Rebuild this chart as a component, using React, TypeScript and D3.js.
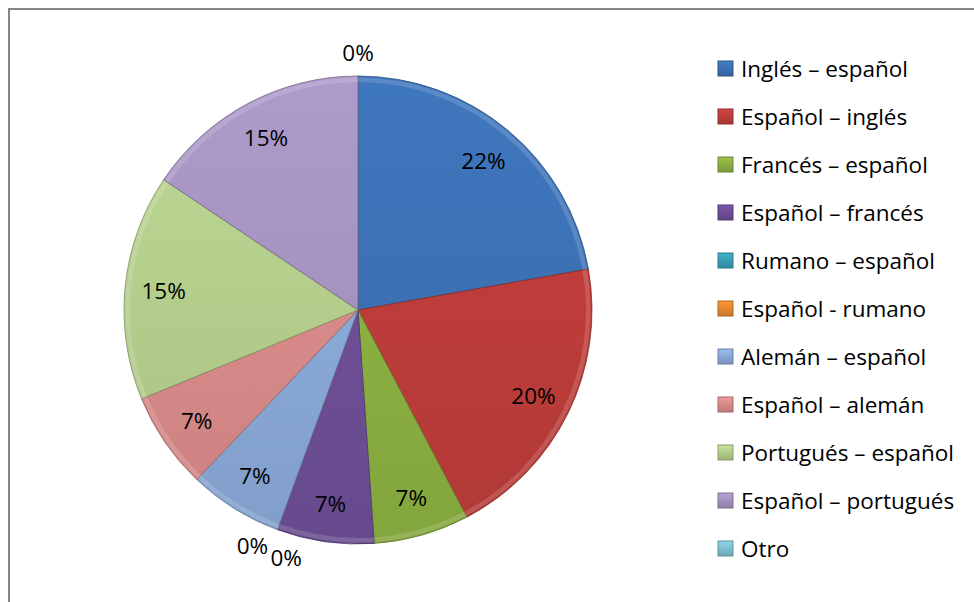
import React from "react";
import * as d3 from "d3";

const categories = [
  "Inglés – español",
  "Español – inglés",
  "Francés – español",
  "Español – francés",
  "Rumano – español",
  "Español - rumano",
  "Alemán – español",
  "Español – alemán",
  "Portugués – español",
  "Español – portugués",
  "Otro",
];
const values = [22.2, 20.1, 6.6, 6.7, 0, 0, 6.5, 6.7, 15.6, 15.6, 0];
const pctLabels = ["22%", "20%", "7%", "7%", "0%", "0%", "7%", "7%", "15%", "15%", "0%"];
const colors = [
  "#3C71B4", "#BE3D3A", "#8CB141", "#6F4F97", "#3A9FB8", "#E8892F",
  "#8BAAD8", "#D98B89", "#B4CE8C", "#A593C0", "#7FC0D2",
];

const W = 974;
const H = 602;
const cx = 358;
const cy = 310;
const R = 234;
const FONT = "'Open Sans', Lato, sans-serif";
const FS = 22.5;

export default function App() {
  const pie = d3.pie<number>().sort(null).value((d) => d)(values);
  const arc = d3.arc<d3.PieArcDatum<number>>().innerRadius(0).outerRadius(R);
  const rim = d3.arc<d3.PieArcDatum<number>>().innerRadius(R - 6).outerRadius(R - 1.5);

  const zeroIdx = pie.map((p, i) => (values[i] === 0 ? i : -1)).filter((i) => i >= 0);
  const labels = pie.map((p, i) => {
    const mid = (p.startAngle + p.endAngle) / 2;
    if (values[i] > 0) {
      const r = R * 0.835;
      return { x: cx + r * Math.sin(mid), y: cy - r * Math.cos(mid), t: pctLabels[i] };
    }
    const same = zeroIdx.filter((j) => Math.abs(pie[j].startAngle - p.startAngle) < 1e-6);
    const k = same.indexOf(i);
    const spread = same.length > 1 ? ((k - (same.length - 1) / 2) * -8 * Math.PI) / 180 : 0;
    const a = mid + spread;
    const r = R + 24;
    return { x: cx + r * Math.sin(a), y: cy - r * Math.cos(a), t: pctLabels[i] };
  });

  const legendX = 718;
  const legendY0 = 61;
  const legendStep = 48;

  return (
    <svg
      width={W}
      height={H}
      style={{ position: "fixed", left: 0, top: 0, background: "#fff" }}
      xmlns="http://www.w3.org/2000/svg"
    >
      <defs>
        {colors.map((c, i) => {
          const col = d3.color(c)!;
          return (
            <linearGradient
              key={i}
              id={`g${i}`}
              gradientUnits="userSpaceOnUse"
              x1={0}
              y1={-R}
              x2={0}
              y2={R}
            >
              <stop offset="0%" stopColor={col.brighter(0.15).toString()} />
              <stop offset="100%" stopColor={col.darker(0.2).toString()} />
            </linearGradient>
          );
        })}
        {colors.map((c, i) => {
          const col = d3.color(c)!;
          return (
            <linearGradient key={"l" + i} id={`lg${i}`} x1="0" y1="0" x2="0" y2="1">
              <stop offset="0%" stopColor={col.brighter(0.3).toString()} />
              <stop offset="100%" stopColor={col.darker(0.4).toString()} />
            </linearGradient>
          );
        })}
      </defs>
      <rect x={0} y={0} width={W} height={H} fill="#fff" />
      <rect x={9} y={9} width={W + 40} height={H + 40} fill="none" stroke="#868686" strokeWidth={2} />

      <g transform={`translate(${cx},${cy})`}>
        {pie.map((p, i) => {
          if (values[i] <= 0) return null;
          const col = d3.color(colors[i])!;
          return (
            <g key={i}>
              <path
                d={arc(p) || ""}
                fill={`url(#g${i})`}
                stroke={col.darker(1).toString()}
                strokeWidth={0.8}
              />
              <path d={rim(p) || ""} fill="#ffffff" opacity={0.15} />
            </g>
          );
        })}
      </g>

      <g fontFamily={FONT} fontSize={FS} fill="#000">
        {labels.map((l, i) => (
          <text key={i} x={l.x} y={l.y} textAnchor="middle" dominantBaseline="central">
            {l.t}
          </text>
        ))}
      </g>

      <g fontFamily={FONT} fontSize={FS} fill="#000">
        {categories.map((c, i) => {
          const y = legendY0 + i * legendStep;
          const col = d3.color(colors[i])!;
          return (
            <g key={i}>
              <rect
                x={legendX}
                y={y}
                width={15}
                height={15}
                fill={`url(#lg${i})`}
                stroke={col.darker(0.8).toString()}
                strokeWidth={1}
              />
              <text x={legendX + 23} y={y + 15.5}>
                {c}
              </text>
            </g>
          );
        })}
      </g>
    </svg>
  );
}
